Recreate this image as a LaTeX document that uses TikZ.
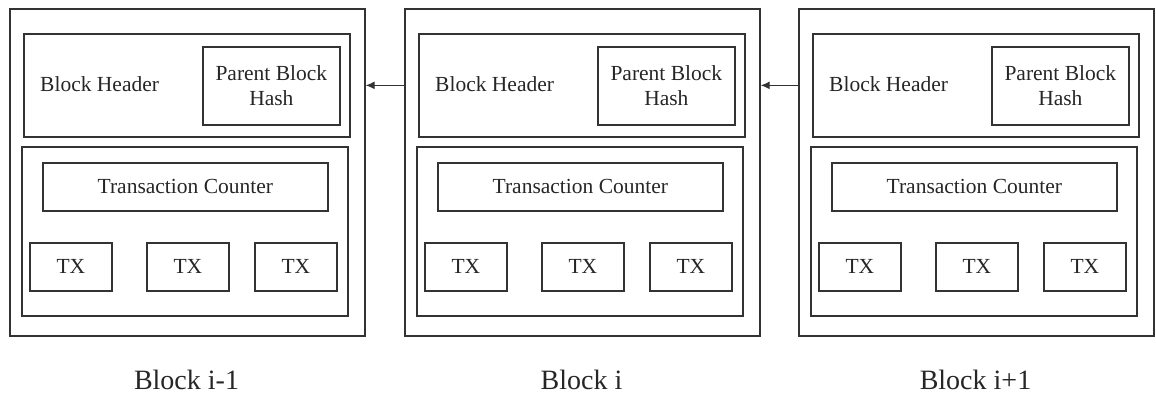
\documentclass[tikz,border=0pt]{standalone}
\usepackage{fontspec}
\setmainfont{Liberation Serif}
\usepackage{tikz}
\usetikzlibrary{arrows.meta}
\definecolor{boxline}{gray}{.2}
\definecolor{boxtext}{gray}{.15}
\newcommand{\widthouter}{355pt}
\newcommand{\heightouter}{327pt}
\newcommand{\widthpart}{326pt}
\newcommand{\widthtx}{82pt}
\newcommand{\heightrow}{48pt}
\tikzset{
    common/.style={anchor=north west, draw=boxline, rectangle, line width=1.7pt, inner sep=0pt, text=boxtext,
        font=\fontsize{21.5}{25}\selectfont},
    outer/.style={common, minimum width=\widthouter, minimum height=\heightouter},
    header/.style={common, minimum width=\widthpart, minimum height=103pt},
    parent/.style={common, minimum width=137pt, minimum height=78pt, align=center},
    body/.style={common, minimum width=\widthpart, minimum height=169pt},
    counter/.style={common, minimum width=285pt, minimum height=\heightrow},
    tx/.style={common, minimum width=\widthtx, minimum height=\heightrow},
    hdrtext/.style={anchor=west, inner sep=0pt, text=boxtext, font=\fontsize{21.5}{25}\selectfont},
    blocklabel/.style={text=boxtext, inner sep=0pt, font=\fontsize{28}{30}\selectfont},
    link/.style={-{Latex[length=9pt,width=8pt]}, line width=1.1pt, boxline}
}

\begin{document}
\begin{tikzpicture}[x=1pt, y=-1pt]
        \useasboundingbox (0,0) rectangle (1156,394);

        \foreach \n/\x/\name in {1/9/{Block i-1}, 2/404/{Block i}, 3/798/{Block i+1}} {
            \begin{scope}[shift={(\x,8)}]
                \node[outer] (b\n) at (0,0) {};
                \node[header] (hdr\n) at (14,25) {};
                \node[hdrtext] (hdrtxt\n) at (31,76.5) {Block Header};
                \node[parent] (par\n) at (193,38) {Parent Block\\Hash};
                \node[body] (body\n) at (12,138) {};
                \node[counter] (cnt\n) at (33,154) {Transaction Counter};
                \node[tx] (txa\n) at (20,234) {TX};
                \node[tx] (txb\n) at (137,234) {TX};
                \node[tx] (txc\n) at (245,234) {TX};
                \node[blocklabel] (lbl\n) at (177.5,372) {\name};
            \end{scope}
        }

        \draw[link] (hdr2.west -| b2.west) -- (hdr2.west -| b1.east);
        \draw[link] (hdr3.west -| b3.west) -- (hdr3.west -| b2.east);

    \end{tikzpicture}
\end{document}
